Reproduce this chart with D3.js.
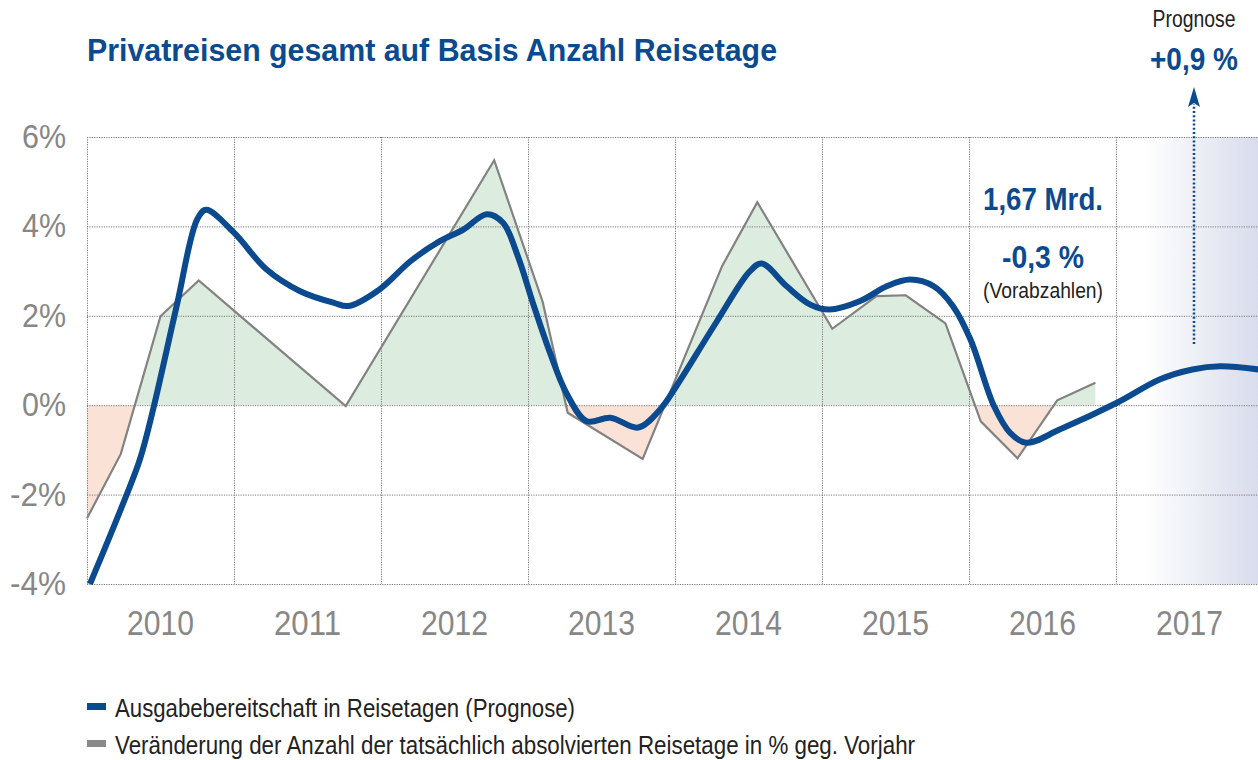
<!DOCTYPE html>
<html><head><meta charset="utf-8">
<script src="https://cdn.jsdelivr.net/npm/d3@7"></script>
<style>
html,body{margin:0;padding:0;background:#fff;}
svg{display:block;}
text{font-family:"Liberation Sans",Arial,Helvetica,sans-serif;}
</style></head>
<body>
<svg id="chart" width="1258" height="760"></svg>
<script>
// ---- data ----
const years = ["2010","2011","2012","2013","2014","2015","2016","2017"];
const yTicks = [6,4,2,0,-2,-4];
const yTickLabels = ["6%","4%","2%","0%","-2%","-4%"];
// actual change in travel days (gray), position in fractional years
const grayT = [2010.0,2010.23,2010.50,2010.76,2011.76,2012.77,2013.10,2013.27,2013.78,2014.32,2014.56,2015.07,2015.37,2015.57,2015.84,2016.08,2016.33,2016.60,2016.86];
const grayV = [-2.53,-1.09,1.99,2.79,-0.02,5.48,2.31,-0.17,-1.20,3.11,4.54,1.71,2.44,2.46,1.83,-0.36,-1.19,0.11,0.50];
// spending willingness in travel days (blue, smooth)
const blueT = [2010.02,2010.22,2010.36,2010.45,2010.61,2010.75,2010.81,2011.00,2011.22,2011.45,2011.68,2011.78,2011.99,2012.20,2012.40,2012.56,2012.72,2012.83,2012.93,2013.04,2013.15,2013.26,2013.40,2013.56,2013.75,2013.90,2014.01,2014.28,2014.51,2014.59,2014.76,2014.92,2015.05,2015.26,2015.44,2015.60,2015.76,2015.89,2016.01,2016.17,2016.28,2016.39,2016.62,2017.01,2017.30,2017.52,2017.71,2017.97];
const blueV = [-4.0,-2.41,-1.21,-0.09,2.22,4.16,4.37,3.86,3.04,2.55,2.29,2.22,2.59,3.22,3.67,3.93,4.27,4.08,3.34,2.22,1.17,0.28,-0.36,-0.28,-0.50,-0.09,0.43,1.85,3.00,3.17,2.66,2.25,2.14,2.33,2.66,2.81,2.66,2.22,1.47,-0.02,-0.62,-0.84,-0.54,0.06,0.58,0.80,0.87,0.80];
const titleText = "Privatreisen gesamt auf Basis Anzahl Reisetage";
const legendLabels = ["Ausgabebereitschaft in Reisetagen (Prognose)","Veränderung der Anzahl der tatsächlich absolvierten Reisetage in % geg. Vorjahr"];

// ---- layout ----
const BLUE = "#0b4a8e", GRAY = "#828282";
const L = 87, R = 1258, T = 137, B = 584;
const svg = d3.select("#chart");
const x = d3.scaleLinear().domain([2010, 2010 + (R - L) / 147]).range([L, R]);
const y = d3.scaleLinear().domain([-4, 6]).range([B, T]);

const defs = svg.append("defs");
const grad = defs.append("linearGradient").attr("id","fc").attr("x1","0").attr("x2","1").attr("y1","0").attr("y2","0");
grad.append("stop").attr("offset","0").attr("stop-color","#ffffff");
grad.append("stop").attr("offset","1").attr("stop-color","#d8dcec");
defs.append("clipPath").attr("id","above").append("rect").attr("x",L).attr("y",T-20).attr("width",R-L).attr("height",y(0)-T+20);
defs.append("clipPath").attr("id","below").append("rect").attr("x",L).attr("y",y(0)).attr("width",R-L).attr("height",B-y(0)+20);
defs.append("clipPath").attr("id","plot").append("rect").attr("x",L).attr("y",T-20).attr("width",R-L).attr("height",B-T+30);

// forecast gradient band
svg.append("rect").attr("x", x(2017.2)).attr("y", T).attr("width", R - x(2017.2)).attr("height", B - T).attr("fill","url(#fc)");

// gray data
const gray = grayT.map((t,i)=>({t, v: grayV[i]}));
const area = d3.area().x(d=>x(d.t)).y0(y(0)).y1(d=>y(d.v));
svg.append("path").datum(gray).attr("d", area).attr("fill","#dcecde").attr("clip-path","url(#above)");
svg.append("path").datum(gray).attr("d", area).attr("fill","#fbe2d7").attr("clip-path","url(#below)");

// grid
const grid = svg.append("g").attr("stroke","#7a7a7a").attr("stroke-width",1).attr("stroke-dasharray","1.2,1.2").attr("fill","none");
grid.selectAll("line.h").data(yTicks).join("line").attr("class","h")
  .attr("x1",L).attr("x2",R).attr("y1",d=>y(d)+0.5).attr("y2",d=>y(d)+0.5);
grid.selectAll("line.v").data(d3.range(0, years.length)).join("line").attr("class","v")
  .attr("x1",d=>Math.round(x(2010+d))+0.5).attr("x2",d=>Math.round(x(2010+d))+0.5).attr("y1",T).attr("y2",B);

// y labels
svg.append("g").selectAll("text").data(yTicks).join("text")
  .attr("x",66).attr("y",d=>y(d)+11).attr("text-anchor","end")
  .attr("font-size",34).attr("fill","#878787")
  .attr("textLength",(d,i)=>yTickLabels[i].length===2?44:56).attr("lengthAdjust","spacingAndGlyphs")
  .text((d,i)=>yTickLabels[i]);
// year labels
svg.append("g").selectAll("text").data(years).join("text")
  .attr("x",(d,i)=>x(2010+i+0.5)).attr("y",635).attr("text-anchor","middle")
  .attr("font-size",35).attr("fill","#878787")
  .attr("textLength",67).attr("lengthAdjust","spacingAndGlyphs").text(d=>d);

// gray line
svg.append("path").datum(gray).attr("d", d3.line().x(d=>x(d.t)).y(d=>y(d.v)))
  .attr("fill","none").attr("stroke",GRAY).attr("stroke-width",2.2).attr("stroke-linejoin","miter");

// blue line
const blue = blueT.map((t,i)=>({t, v: blueV[i]}));
svg.append("path").datum(blue).attr("clip-path","url(#plot)")
  .attr("d", d3.line().curve(d3.curveCatmullRom.alpha(0.5)).x(d=>x(d.t)).y(d=>y(d.v)))
  .attr("fill","none").attr("stroke",BLUE).attr("stroke-width",6).attr("stroke-linejoin","round");

// title
svg.append("text").attr("x",87).attr("y",61).attr("font-size",31).attr("font-weight","bold")
  .attr("fill",BLUE).attr("textLength",690).attr("lengthAdjust","spacingAndGlyphs").text(titleText);

// annotations
const ax = 1194;
svg.append("text").attr("x",ax).attr("y",27).attr("text-anchor","middle").attr("font-size",23).attr("fill","#222")
  .attr("textLength",83).attr("lengthAdjust","spacingAndGlyphs").text("Prognose");
svg.append("text").attr("x",ax).attr("y",70).attr("text-anchor","middle").attr("font-size",32).attr("font-weight","bold").attr("fill",BLUE)
  .attr("textLength",88).attr("lengthAdjust","spacingAndGlyphs").text("+0,9 %");
svg.append("line").attr("x1",ax).attr("x2",ax).attr("y1",344).attr("y2",104)
  .attr("stroke",BLUE).attr("stroke-width",2.5).attr("stroke-dasharray","2,2.2");
svg.append("path").attr("d",`M${ax},87 L${ax+6},107 L${ax},103 L${ax-6},107 Z`).attr("fill",BLUE);

svg.append("text").attr("x",1043).attr("y",210).attr("text-anchor","middle").attr("font-size",31).attr("font-weight","bold").attr("fill",BLUE)
  .attr("textLength",120).attr("lengthAdjust","spacingAndGlyphs").text("1,67 Mrd.");
svg.append("text").attr("x",1043).attr("y",268).attr("text-anchor","middle").attr("font-size",31).attr("font-weight","bold").attr("fill",BLUE)
  .attr("textLength",82).attr("lengthAdjust","spacingAndGlyphs").text("-0,3 %");
svg.append("text").attr("x",1043).attr("y",298).attr("text-anchor","middle").attr("font-size",22).attr("fill","#222")
  .attr("textLength",120).attr("lengthAdjust","spacingAndGlyphs").text("(Vorabzahlen)");

// legend
const lg = svg.append("g");
const lgColors = [BLUE, "#8a8a8a"];
const lgY = [717, 754];
lg.selectAll("rect").data(legendLabels).join("rect")
  .attr("x",87).attr("y",(d,i)=>lgY[i]-14).attr("width",19).attr("height",7).attr("fill",(d,i)=>lgColors[i]);
const lgW = [460, 800];
lg.selectAll("text").data(legendLabels).join("text")
  .attr("x",115).attr("y",(d,i)=>lgY[i]).attr("font-size",26).attr("fill","#222")
  .attr("textLength",(d,i)=>lgW[i]).attr("lengthAdjust","spacingAndGlyphs").text(d=>d);
</script>
</body></html>
